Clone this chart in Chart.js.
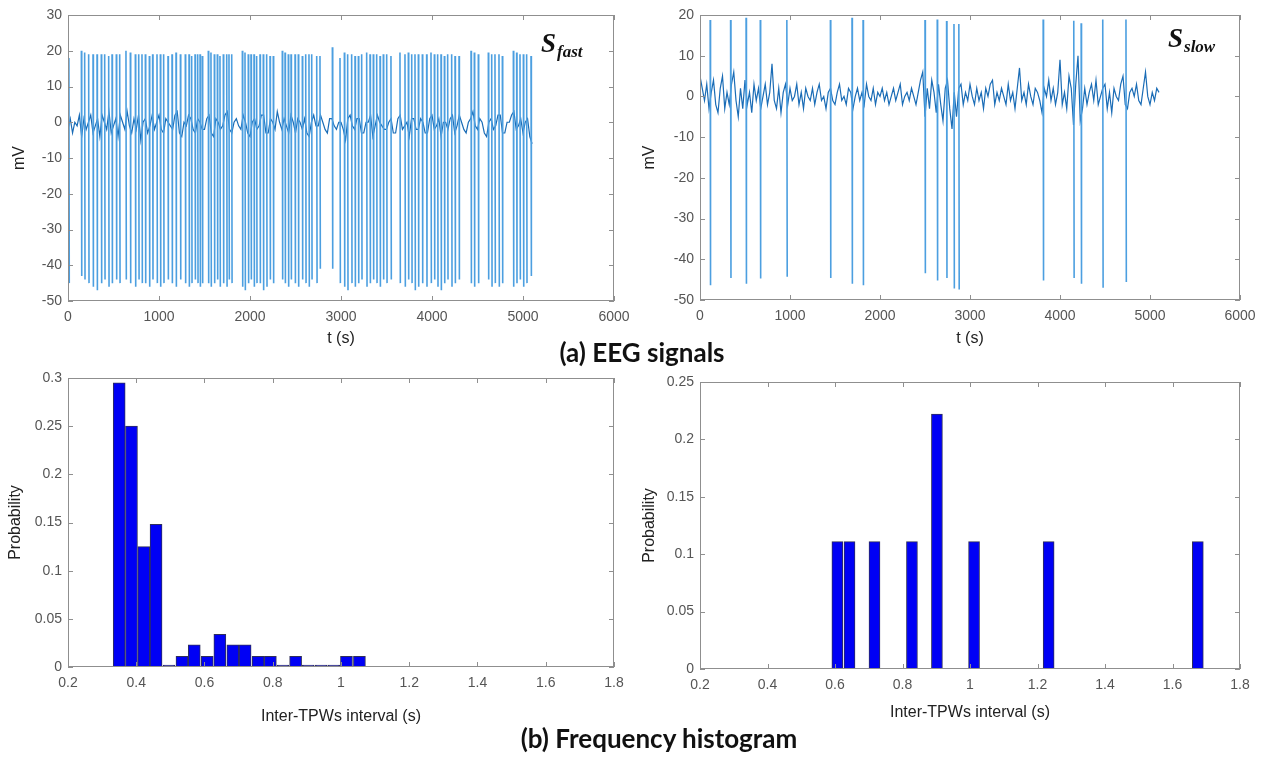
<!DOCTYPE html>
<html>
<head>
<meta charset="utf-8">
<title>EEG signals and inter-TPW histograms</title>
<script src="https://cdn.jsdelivr.net/npm/chart.js@4.4.1/dist/chart.umd.min.js"></script>
<style>
  html, body { margin: 0; padding: 0; background: #fff; }
  body { width: 1276px; height: 758px; position: relative; overflow: hidden; }
  .panel { position: absolute; }
  .caption { position: absolute; width: 400px; text-align: center; font-family: Lato, "Open Sans", sans-serif;
             font-weight: bold; font-size: 26px; line-height: 30px; color: #111; white-space: nowrap; }
</style>
</head>
<body>
<div class="panel" style="left:0;top:0;width:640px;height:352px"><canvas id="fastSignal"></canvas></div>
<div class="panel" style="left:640px;top:0;width:636px;height:352px"><canvas id="slowSignal"></canvas></div>
<div class="panel" style="left:0;top:360px;width:640px;height:370px"><canvas id="fastHist"></canvas></div>
<div class="panel" style="left:640px;top:360px;width:636px;height:370px"><canvas id="slowHist"></canvas></div>
<div class="caption" style="left:442px;top:337px">(a) EEG signals</div>
<div class="caption" style="left:459px;top:723px">(b) Frequency histogram</div>
<script>
'use strict';

// ---- S_fast : spike times (s), spike peaks / troughs (mV) ----
var fastSpikeT = [10, 147, 183, 227, 275, 319, 366, 403, 447, 484, 531, 568,
	637, 685, 740, 777, 813, 850, 894, 930, 978, 1015, 1051, 1099,
	1143, 1187, 1235, 1289, 1330, 1359, 1396, 1425, 1451, 1476,
	1542, 1571, 1608, 1641, 1670, 1707, 1744, 1769, 1799,
	1916, 1945, 1981, 2011, 2044, 2073, 2110, 2146, 2183, 2220, 2256,
	2355, 2385, 2421, 2451, 2495, 2531, 2575, 2612, 2648, 2678, 2733, 2769,
	2905,
	2989, 3037, 3073, 3117, 3154, 3191, 3227, 3282, 3319, 3355, 3392, 3429, 3465, 3502, 3549,
	3648, 3703, 3740, 3777, 3813, 3850, 3894, 3941, 3989, 4026, 4062, 4099, 4136, 4172, 4216, 4253, 4297,
	4429, 4465, 4509,
	4619, 4656, 4692, 4736, 4773,
	4894, 4930, 4967, 5004, 5040, 5088];
var fastPeak = [18, 20, 19.5, 19, 19, 19, 19, 19, 18.5, 19, 19, 19,
	20, 19.5, 19, 19, 19, 19, 18.5, 19, 19, 19, 19, 18.5,
	19, 19.5, 19, 19, 19, 18.5, 19, 19, 19, 18.5,
	20, 19.5, 19, 19, 18.5, 19, 19, 19, 19,
	20, 19.5, 19, 19, 19, 18.5, 19, 19, 19, 18.5, 18.5,
	20, 19.5, 19, 19, 19, 19, 18.5, 19, 19, 19, 18.5, 18.5,
	21,
	18, 19.5, 19, 19, 18.5, 18.5, 19, 19.5, 19, 19, 19, 18.5, 19, 19, 18.5,
	19.5, 19, 19.5, 19, 19, 19, 19, 19, 19.5, 19, 19, 19, 18.5, 19, 19, 18.5, 18.5,
	20, 19.5, 19,
	19.5, 19, 19, 19, 18.5,
	20, 19.5, 19, 19, 19, 18.5];
var fastTrough = [-45, -43, -44, -45, -46, -47, -45, -44, -46, -45, -44, -45,
	-44, -45, -46, -44, -45, -45, -46, -44, -45, -46, -45, -44,
	-45, -46, -44, -45, -46, -45, -44, -45, -46, -45,
	-45, -46, -45, -44, -46, -45, -46, -44, -45,
	-46, -47, -45, -44, -46, -45, -45, -47, -46, -44, -45,
	-44, -45, -46, -44, -45, -46, -44, -45, -46, -44, -45, -41,
	-41,
	-45, -46, -47, -45, -46, -45, -44, -46, -45, -44, -45, -46, -44, -45, -44,
	-45, -46, -44, -45, -47, -46, -45, -46, -45, -44, -46, -47, -45, -44, -46, -45, -44,
	-45, -46, -45,
	-44, -46, -45, -46, -45,
	-46, -45, -44, -46, -45, -43];
// background activity of S_fast, one reading every 25 s from t = 0
var fastNoise = [-2, 1, -3, 0, -1, 2, -4, 1, -2, 0, 2, -3, -1, 1, -4, 2, 0, -2, 3, -3,
	-1, 1, -4, 2, 0, -2, 3, -1, -3, 1, -2, 2, -5, 0, 1, -3, -1, 2, -2, 0,
	2, -2, -3, 1, 0, -1, -2, 2, 3, -3, -4, 0, -1, 2, 1, -2, -3, 1, 0, -2,
	-2, 1, 2, -3, -4, 1, 0, -2, -1, 2, 3, -2, -3, 0, 1, -1, -2, 2, 0, -3,
	-4, 0, 1, -2, -1, 2, 2, -3, -3, 1, 0, -2, 3, 0, -2, 1, -1, -3, 2, 0,
	-3, 1, 0, -2, 1, -3, -4, 0, 2, -1, -1, 2, 0, -2, -3, 1, 1, -1, -2, 0,
	0, -2, -5, 1, 2, -1, -2, 1, 1, -3, -3, 0, 0, 2, -4, -1, 2, 0, -1, -2,
	-2, 0, 1, -3, -3, 1, 2, -2, -1, 0, -4, 1, 1, -2, -2, 1, 0, -3, -3, 1,
	2, -2, -1, 1, -4, 0, 0, -2, 1, 2, -3, -1, 2, 0, -2, -3, 0, 1, 3, -1,
	-2, 1, 0, -3, -4, 0, 1, -2, -1, 2, 2, -3, -3, 0, 0, 2, 3, -2, -1, 1,
	-3, 0, 1, -4, -6];

// ---- S_slow ----
var slowSpikeT = [113, 340, 512, 670, 965, 1449, 1689, 1812, 2500, 2636, 2740, 2822, 2876,
	3813, 4153, 4235, 4475, 4733];
var slowPeak = [18.8, 18.8, 19.3, 18.8, 18.8, 18.8, 19.3, 18.8, 18.8, 18.9, 18.5, 17.8, 17.8,
	18.9, 18.6, 18.0, 18.9, 18.9];
var slowTrough = [-46.4, -44.6, -46, -44.7, -44.3, -44.6, -46, -46.4, -43.4, -45.2, -44.6, -47.2, -47.4,
	-45.2, -44.6, -46, -47, -45.6];
// background activity of S_slow, one reading every 25 s from t = 0
var slowNoise = [5, 2, -1, 3, -3, 1, 4, -2, -4, 2, 5, -3, 1, -2, 3, 6, -1, -5, 2, -3,
	4, -2, 1, -4, 3, -1, 2, -3, 0, 3, -2, 1, 8, -1, -3, 2, -4, 1, 3, -2,
	2, -1, 0, 3, -2, 1, -3, 2, 0, -1, 2, -2, 1, 3, -1, 0, -3, 1, 2, -1,
	-2, 1, 3, -1, 0, -2, 2, 1, -3, 0, 2, -1, 1, -2, 3, 0, -1, 2, -2, 1,
	0, 2, -1, 1, -2, 0, 2, -1, 1, 3, -2, 0, 1, -1, 2, 0, -2, 1, 4, 6,
	-5, 2, -3, 4, 1, -4, 3, -2, -6, 2, 4, -3, -8, 1, -5, 2, 3, -2, 1, -1,
	3, 0, -2, 2, -1, 1, -3, 2, 0, 3, 4, -2, 1, -1, 2, 0, -2, 3, -1, 1,
	-3, 2, 7, -1, 1, -2, 3, 0, -2, 2, 1, -1, -4, 2, 0, 4, -1, 2, -2, 1,
	9, -2, 1, -3, 5, 2, -7, 3, 10, -6, -3, 2, -2, 1, 3, -1, 4, -2, 0, 2,
	3, -3, 1, -4, 2, 0, -1, 3, 5, -2, -3, 1, 2, 0, 3, -1, -2, 2, 6, 0,
	-2, 1, -1, 2, 1];

// ---- histograms: bin centres (s) and probabilities ----
var fastBins = [0.350, 0.386, 0.422, 0.458, 0.496, 0.534, 0.570, 0.608, 0.645, 0.683,
	0.719, 0.757, 0.793, 0.830, 0.867, 0.904, 0.942, 0.979, 1.016, 1.054];
var fastProb = [0.295, 0.25, 0.125, 0.148, 0, 0.011, 0.023, 0.011, 0.034, 0.023,
	0.023, 0.011, 0.011, 0, 0.011, 0, 0, 0, 0.011, 0.011];
var slowBins = [0.607, 0.643, 0.717, 0.828, 0.902, 1.012, 1.233, 1.675];
var slowProb = [0.111, 0.111, 0.111, 0.111, 0.222, 0.111, 0.111, 0.111];
var slowEmptyRange = [0.66, 1.65];   // run of empty bins drawn on the baseline

var noiseStep = 25;    // s between background readings
var spikeDur = 4;      // s from peak to trough

Chart.defaults.font.family = '"Liberation Sans", Arial, sans-serif';
Chart.defaults.animation = false;
Chart.defaults.plugins.legend.display = false;
Chart.defaults.plugins.tooltip.enabled = false;

function noisePoints(values) {
	return values.map(function(v, i) { return {x: i * noiseStep, y: v}; });
}
function spikePoints(times, peaks, troughs) {
	var pts = [];
	times.forEach(function(t, i) {
		pts.push({x: t, y: peaks[i]});
		pts.push({x: t + spikeDur, y: troughs[i]});
		pts.push({x: t + spikeDur, y: null});
	});
	return pts;
}
function binPoints(bins, probs) {
	return bins.map(function(b, i) { return {x: b, y: probs[i]}; });
}
function plain(v) { return String(Math.round(v * 1000) / 1000); }

// MATLAB style box with inward ticks on all four sides
var matlabBox = {
	id: 'matlabBox',
	afterDatasetsDraw: function(chart) {
		var a = chart.chartArea, ctx = chart.ctx, xs = chart.scales.x, ys = chart.scales.y;
		ctx.save();
		ctx.strokeStyle = '#8f8f8f';
		ctx.lineWidth = 1;
		ctx.strokeRect(Math.round(a.left) + 0.5, Math.round(a.top) + 0.5,
			Math.round(a.right - a.left) - 1, Math.round(a.bottom - a.top) - 1);
		ctx.beginPath();
		xs.ticks.forEach(function(t) {
			var px = Math.round(xs.getPixelForValue(t.value)) + 0.5;
			ctx.moveTo(px, a.bottom); ctx.lineTo(px, a.bottom - 5);
			ctx.moveTo(px, a.top); ctx.lineTo(px, a.top + 5);
		});
		ys.ticks.forEach(function(t) {
			var py = Math.round(ys.getPixelForValue(t.value)) + 0.5;
			ctx.moveTo(a.left, py); ctx.lineTo(a.left + 5, py);
			ctx.moveTo(a.right, py); ctx.lineTo(a.right - 5, py);
		});
		ctx.stroke();
		ctx.restore();
	}
};

// "S" with bold italic subscript in the top right corner
var signalTag = {
	id: 'signalTag',
	afterDraw: function(chart, args, opts) {
		if (!opts.sub) return;
		var a = chart.chartArea, ctx = chart.ctx;
		var x = a.right - opts.dx, y = a.top + opts.dy;
		ctx.save();
		ctx.fillStyle = '#111';
		ctx.textBaseline = 'alphabetic';
		ctx.font = 'italic bold 27px "Liberation Serif", "DejaVu Serif", serif';
		ctx.fillText('S', x, y);
		var w = ctx.measureText('S').width;
		ctx.font = 'italic bold 17px "Liberation Serif", "DejaVu Serif", serif';
		ctx.fillText(opts.sub, x + w + 1, y + 5);
		ctx.restore();
	}
};

var tickFont = {size: 14};
var tickColor = '#555';
var titleFont = {size: 16};
var titleColor = '#222';

function axes(o) {
	return {
		x: {
			type: 'linear', min: o.xmin, max: o.xmax, offset: false,
			grid: {display: false, drawTicks: false}, border: {display: false},
			ticks: {stepSize: o.xstep, font: tickFont, color: tickColor, padding: 8, maxRotation: 0, callback: plain},
			title: {display: true, text: o.xtitle, font: titleFont, color: titleColor, padding: {top: o.xtp, bottom: o.xtp}},
			afterFit: function(s) { s.height = o.xh; }
		},
		y: {
			min: o.ymin, max: o.ymax,
			grid: {display: false, drawTicks: false}, border: {display: false},
			ticks: {stepSize: o.ystep, font: tickFont, color: tickColor, padding: 6, callback: plain},
			title: {display: true, text: o.ytitle, font: titleFont, color: titleColor, padding: {top: o.ytp, bottom: o.ytp}},
			afterFit: function(s) { s.width = o.yw; }
		}
	};
}

function signalChart(id, noise, spikes, tag, box) {
	return new Chart(document.getElementById(id), {
		type: 'line',
		data: {
			datasets: [{
				data: spikes, borderColor: '#4c9fe0', borderWidth: 1.6, pointRadius: 0, tension: 0, spanGaps: false
			}, {
				data: noise, borderColor: '#1a6cb6', borderWidth: 1.2, pointRadius: 0, tension: 0
			}]
		},
		options: {
			responsive: true, maintainAspectRatio: false,
			layout: {padding: {left: 0, right: box.pr, top: 15, bottom: 0}},
			scales: axes({xmin: 0, xmax: 6000, xstep: 1000, xtitle: 't (s)', xtp: 4, xh: box.xh,
				ymin: -50, ymax: box.ymax, ystep: 10, ytitle: 'mV', ytp: box.ytp, yw: box.yw}),
			plugins: {signalTag: tag}
		},
		plugins: [matlabBox, signalTag]
	});
}

signalChart('fastSignal', noisePoints(fastNoise), spikePoints(fastSpikeT, fastPeak, fastTrough),
	{sub: 'fast', dx: 73, dy: 37}, {pr: 26, xh: 51, ymax: 30, ytp: 10, yw: 68});
signalChart('slowSignal', noisePoints(slowNoise), spikePoints(slowSpikeT, slowPeak, slowTrough),
	{sub: 'slow', dx: 72, dy: 32}, {pr: 36, xh: 52, ymax: 20, ytp: 0, yw: 60});

function histChart(id, bins, probs, extra, box) {
	var datasets = [{
		type: 'bar', data: binPoints(bins, probs), backgroundColor: '#0000f5',
		borderColor: '#30305a', borderWidth: 1, borderSkipped: false,
		barThickness: box.bw, minBarLength: 2, grouped: false
	}];
	if (extra) {
		datasets.push({
			type: 'line', data: extra.map(function(x) { return {x: x, y: 0}; }),
			borderColor: '#2a2ad8', borderWidth: 1.5, borderDash: [6, 4], pointRadius: 0
		});
	}
	return new Chart(document.getElementById(id), {
		type: 'bar',
		data: {datasets: datasets},
		options: {
			responsive: true, maintainAspectRatio: false,
			layout: {padding: {left: 0, right: box.pr, top: box.pt, bottom: 0}},
			scales: axes({xmin: 0.2, xmax: 1.8, xstep: 0.2, xtitle: 'Inter-TPWs interval (s)', xtp: box.xtp, xh: box.xh,
				ymin: 0, ymax: box.ymax, ystep: 0.05, ytitle: 'Probability', ytp: box.ytp, yw: box.yw})
		},
		plugins: [matlabBox]
	});
}

histChart('fastHist', fastBins, fastProb, null,
	{bw: 12, pr: 26, pt: 18, xh: 63, xtp: 4, ymax: 0.3, ytp: 6, yw: 68});
histChart('slowHist', slowBins, slowProb, slowEmptyRange,
	{bw: 11, pr: 36, pt: 22, xh: 61, xtp: 8, ymax: 0.25, ytp: 0, yw: 60});
</script>
</body>
</html>
